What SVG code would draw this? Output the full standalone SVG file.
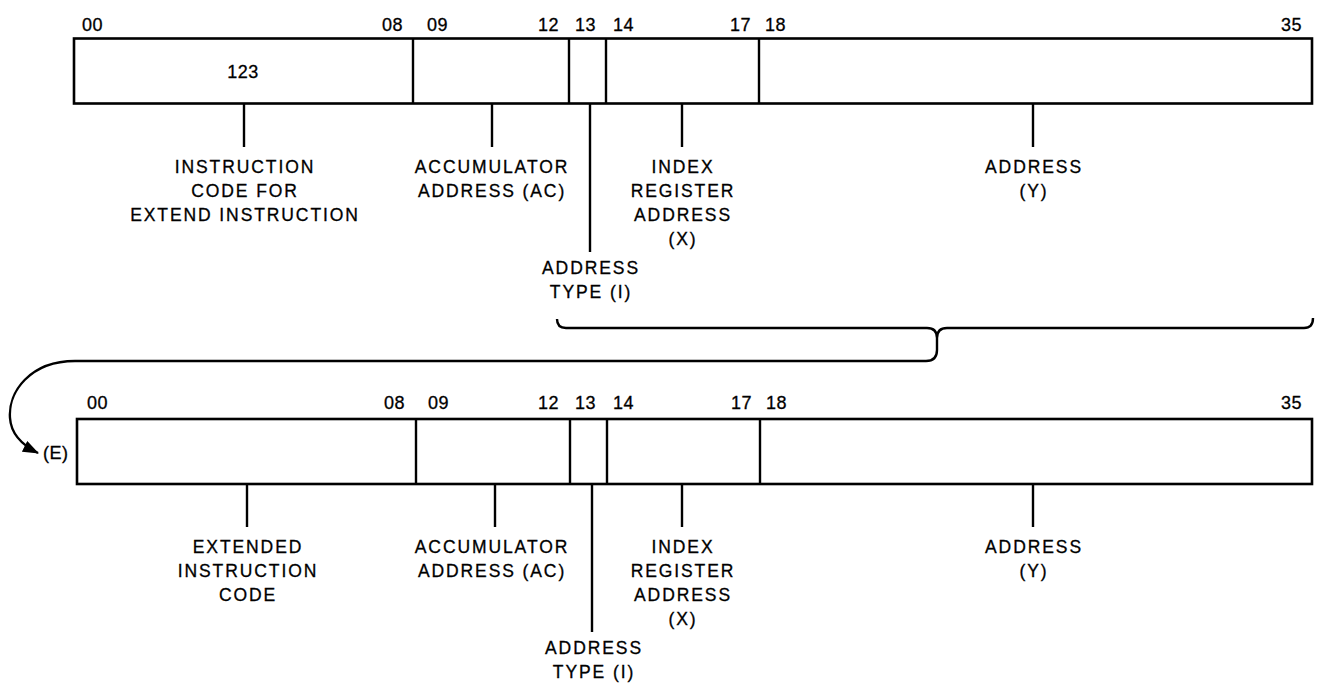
<svg xmlns="http://www.w3.org/2000/svg" width="1318" height="690" viewBox="0 0 1318 690">
<style>
.box{fill:#fff;stroke:#000;stroke-width:2.6}
.ln{stroke:#000;stroke-width:2.4;fill:none}
.num{font-family:"Liberation Sans",Arial,sans-serif;font-size:18px;letter-spacing:0.5px;fill:#000;stroke:#000;stroke-width:0.3}
.lbl{font-family:"Liberation Sans",Arial,sans-serif;font-size:17.5px;letter-spacing:1.9px;fill:#000;stroke:#000;stroke-width:0.3;text-anchor:middle}
</style>
<defs>
<marker id="ah" viewBox="0 0 16 12" refX="15" refY="6" markerWidth="16" markerHeight="12" markerUnits="userSpaceOnUse" orient="auto">
<path d="M0,0 L16,6 L0,12 z" fill="#000"/>
</marker>
</defs>
<rect width="1318" height="690" fill="#fff"/>

<g id="word1">
<rect class="box" x="74" y="38.5" width="1238" height="65"/>
<line class="ln" x1="413" y1="38.5" x2="413" y2="103.5"/>
<line class="ln" x1="569" y1="38.5" x2="569" y2="103.5"/>
<line class="ln" x1="606" y1="38.5" x2="606" y2="103.5"/>
<line class="ln" x1="759" y1="38.5" x2="759" y2="103.5"/>
<text class="num" x="82" y="31">00</text>
<text class="num" x="382" y="31">08</text>
<text class="num" x="427" y="31">09</text>
<text class="num" x="538" y="31">12</text>
<text class="num" x="575" y="31">13</text>
<text class="num" x="613" y="31">14</text>
<text class="num" x="730" y="31">17</text>
<text class="num" x="765" y="31">18</text>
<text class="num" x="1281" y="31">35</text>
<text class="num" x="243" y="78" text-anchor="middle">123</text>
</g>

<g id="labels1">
<line class="ln" x1="244" y1="103" x2="244" y2="147"/>
<line class="ln" x1="492" y1="103" x2="492" y2="147"/>
<line class="ln" x1="590" y1="103" x2="590" y2="252"/>
<line class="ln" x1="682" y1="103" x2="682" y2="147"/>
<line class="ln" x1="1033" y1="103" x2="1033" y2="147"/>
<text class="lbl" x="245" y="173">INSTRUCTION</text>
<text class="lbl" x="245" y="197">CODE FOR</text>
<text class="lbl" x="245" y="221">EXTEND INSTRUCTION</text>
<text class="lbl" x="492" y="173">ACCUMULATOR</text>
<text class="lbl" x="492" y="197">ADDRESS (AC)</text>
<text class="lbl" x="683" y="173">INDEX</text>
<text class="lbl" x="683" y="197">REGISTER</text>
<text class="lbl" x="683" y="221">ADDRESS</text>
<text class="lbl" x="683" y="245">(X)</text>
<text class="lbl" x="1034" y="173">ADDRESS</text>
<text class="lbl" x="1034" y="197">(Y)</text>
<text class="lbl" x="591" y="274">ADDRESS</text>
<text class="lbl" x="591" y="298">TYPE (I)</text>
</g>

<g id="connectors">
<path class="ln" d="M557,319 Q557,328 566,328 L927,328 Q937,328 937,338 Q937,328 947,328 L1304,328 Q1313,328 1313,318"/>
<path class="ln" d="M937,338 L937,350 Q937,361 926,361 L75,361 C30,361 8,392 10,418 C11,434 22,445 38,453" marker-end="url(#ah)"/>
</g>

<g id="word2">
<rect class="box" x="77" y="419" width="1235" height="65"/>
<line class="ln" x1="416" y1="419" x2="416" y2="484"/>
<line class="ln" x1="570" y1="419" x2="570" y2="484"/>
<line class="ln" x1="607" y1="419" x2="607" y2="484"/>
<line class="ln" x1="760" y1="419" x2="760" y2="484"/>
<text class="num" x="87" y="409">00</text>
<text class="num" x="384" y="409">08</text>
<text class="num" x="428" y="409">09</text>
<text class="num" x="538" y="409">12</text>
<text class="num" x="575" y="409">13</text>
<text class="num" x="613" y="409">14</text>
<text class="num" x="731" y="409">17</text>
<text class="num" x="766" y="409">18</text>
<text class="num" x="1281" y="409">35</text>
<text class="num" x="43" y="459">(E)</text>
</g>

<g id="labels2">
<line class="ln" x1="247" y1="484" x2="247" y2="527"/>
<line class="ln" x1="495" y1="484" x2="495" y2="527"/>
<line class="ln" x1="592" y1="484" x2="592" y2="632"/>
<line class="ln" x1="682" y1="484" x2="682" y2="527"/>
<line class="ln" x1="1033" y1="484" x2="1033" y2="527"/>
<text class="lbl" x="248" y="553">EXTENDED</text>
<text class="lbl" x="248" y="577">INSTRUCTION</text>
<text class="lbl" x="248" y="601">CODE</text>
<text class="lbl" x="492" y="553">ACCUMULATOR</text>
<text class="lbl" x="492" y="577">ADDRESS (AC)</text>
<text class="lbl" x="683" y="553">INDEX</text>
<text class="lbl" x="683" y="577">REGISTER</text>
<text class="lbl" x="683" y="601">ADDRESS</text>
<text class="lbl" x="683" y="625">(X)</text>
<text class="lbl" x="1034" y="553">ADDRESS</text>
<text class="lbl" x="1034" y="577">(Y)</text>
<text class="lbl" x="594" y="654">ADDRESS</text>
<text class="lbl" x="594" y="678">TYPE (I)</text>
</g>
</svg>
